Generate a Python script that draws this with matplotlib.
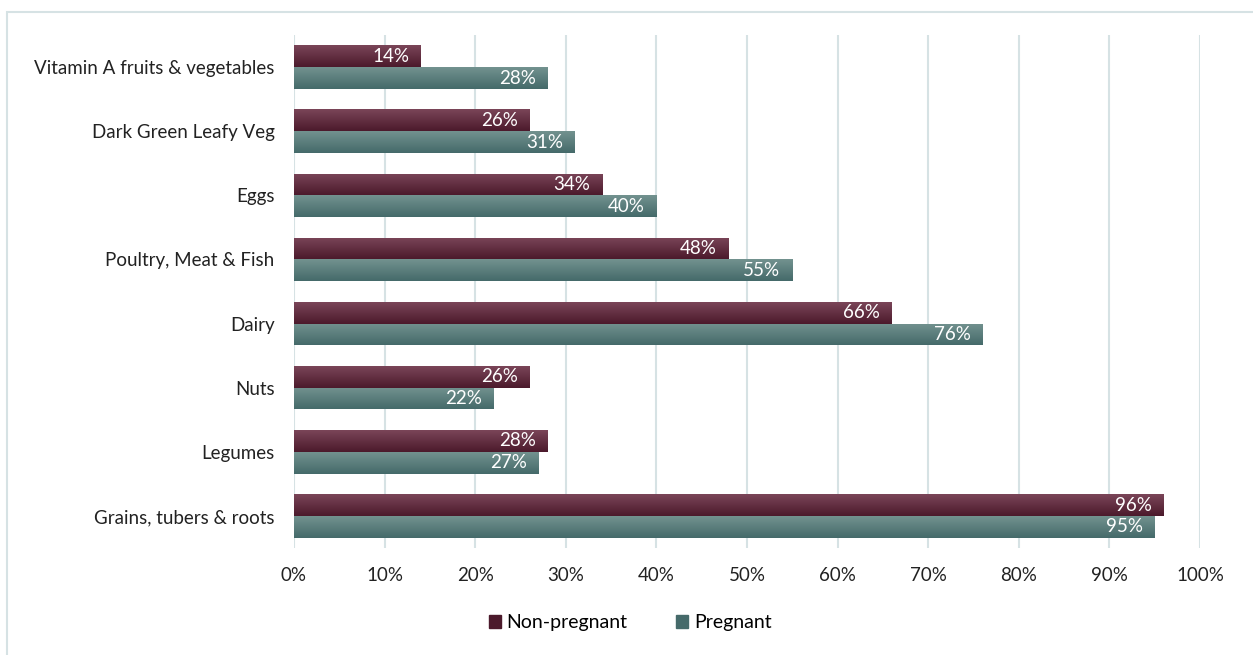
import matplotlib.pyplot as plt
import numpy as np
from matplotlib.colors import LinearSegmentedColormap
from matplotlib.patches import Rectangle

plt.rcParams['font.family'] = ['Lato', 'DejaVu Sans']

# Food groups consumed, bottom to top as drawn
groups = ['Grains, tubers & roots', 'Legumes', 'Nuts', 'Dairy',
          'Poultry, Meat & Fish', 'Eggs', 'Dark Green Leafy Veg',
          'Vitamin A fruits & vegetables']
non_pregnant = [96, 28, 26, 66, 48, 34, 26, 14]
pregnant = [95, 27, 22, 76, 55, 40, 31, 28]

col_np = ('#7a4558', '#4c1a2c')   # top, bottom of gradient
col_p = ('#72928f', '#456a6a')

fig = plt.figure(figsize=(12.53, 6.55), dpi=100)
ax = fig.add_axes([0.2346, 0.1634, 0.7231, 0.783])

y = np.arange(len(groups))
h = 0.34


def gradient_bars(ys, vals, cols):
    cmap = LinearSegmentedColormap.from_list('g', [cols[1], cols[0]])
    bars = ax.barh(ys, vals, height=h, color=cols[1], zorder=2)
    grad = np.linspace(0, 1, 50).reshape(-1, 1)
    for b in bars:
        x0, y0 = b.get_x(), b.get_y()
        im = ax.imshow(grad, cmap=cmap, aspect='auto', origin='lower',
                       extent=[x0, x0 + b.get_width(), y0, y0 + b.get_height()],
                       zorder=3)
        im.set_clip_path(b)
    return bars


b1 = gradient_bars(y + h / 2, non_pregnant, col_np)
b2 = gradient_bars(y - h / 2, pregnant, col_p)

for bars, vals in ((b1, non_pregnant), (b2, pregnant)):
    for b, v in zip(bars, vals):
        ax.text(v - 1.3, b.get_y() + b.get_height() / 2, f'{v}%',
                ha='right', va='center', color='white', fontsize=13.5, zorder=4)

ax.set_xlim(0, 100)
ax.set_ylim(-0.5, len(groups) - 0.5)
ax.set_xticks(np.arange(0, 101, 10))
ax.set_xticklabels([f'{t}%' for t in range(0, 101, 10)], fontsize=13.5, color='#222222')
ax.set_yticks(y)
ax.set_yticklabels(groups, fontsize=13.5, color='#222222')
ax.tick_params(length=0, pad=14)
ax.tick_params(axis='x', pad=14)
ax.grid(axis='x', color='#d6e2e4', linewidth=1.5, zorder=0)
ax.set_axisbelow(True)
for s in ax.spines.values():
    s.set_visible(False)

# legend squares
hnp = Rectangle((0, 0), 1, 1, color=col_np[1])
hp = Rectangle((0, 0), 1, 1, color=col_p[1])
fig.legend([hnp, hp], ['Non-pregnant', 'Pregnant'], loc='center',
           bbox_to_anchor=(0.503, 0.049), ncol=2, frameon=False, fontsize=14,
           handlelength=0.6, handleheight=0.6, handletextpad=0.3, columnspacing=2.5)

fig.patches.append(Rectangle((0.0056, -0.01), 1.2, 1.0024 - 0.01, transform=fig.transFigure,
                             fill=False, edgecolor='#d6e2e4', linewidth=1.5))

fig.savefig('out.png', dpi=100)
